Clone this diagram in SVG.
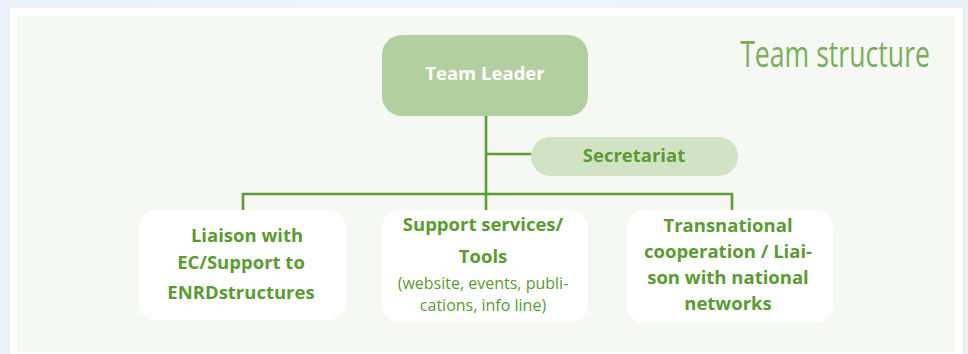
<svg xmlns="http://www.w3.org/2000/svg" width="968" height="354" viewBox="0 0 968 354">
<defs>
<linearGradient id="bg" x1="0" y1="0" x2="1" y2="0">
<stop offset="0" stop-color="#eaf1f8"/><stop offset="0.5" stop-color="#f1f6fb"/><stop offset="1" stop-color="#e8eff7"/>
</linearGradient>
</defs>
<style>
.lbl{font-family:"Open Sans","Noto Sans",sans-serif;font-weight:700;fill:#5b9b34;text-anchor:middle;font-size:18.5px}
.sm{font-family:"Open Sans","Noto Sans",sans-serif;font-weight:400;fill:#5b9b34;text-anchor:middle;font-size:16px}
.box{fill:#ffffff}
.con{stroke:#5e9c38;stroke-width:2.6;fill:none}
</style>
<rect x="0" y="0" width="968" height="354" fill="url(#bg)"/>
<rect x="10" y="8" width="953" height="346" fill="#ffffff"/>
<rect x="17" y="16" width="938" height="336" fill="#f6f8f3"/>
<text transform="translate(930 67) scale(0.74 1)" font-family="Open Sans, Noto Sans, sans-serif" font-weight="500" font-size="36" fill="#7aae5c" text-anchor="end">Team structure</text>
<g id="connectors">
<path class="con" d="M486 116V194"/>
<path class="con" d="M486 154H532"/>
<path class="con" d="M243 210V194H732V210"/>
<path class="con" d="M486 194V210"/>
</g>
<g id="team-leader">
<rect x="382" y="35" width="206" height="81" rx="20" fill="#b2cf9f"/>
<text class="lbl" x="485" y="80" style="fill:#ffffff">Team Leader</text>
</g>
<g id="secretariat">
<rect x="531" y="137" width="207" height="39" rx="19.5" fill="#d2e3c5"/>
<text class="lbl" x="634" y="162">Secretariat</text>
</g>
<g id="liaison-ec">
<rect class="box" x="139" y="210" width="207" height="110" rx="18"/>
<text class="lbl" x="247" y="242">Liaison with</text>
<text class="lbl" x="241" y="269">EC/Support to</text>
<text class="lbl" x="241" y="299">ENRDstructures</text>
</g>
<g id="support-services">
<rect class="box" x="382" y="210" width="206" height="112" rx="18"/>
<text class="lbl" x="483" y="231">Support services/</text>
<text class="lbl" x="483" y="263">Tools</text>
<text class="sm" x="483" y="289">(website, events, publi-</text>
<text class="sm" x="483" y="311">cations, info line)</text>
</g>
<g id="transnational">
<rect class="box" x="627" y="210" width="206" height="113" rx="18"/>
<text class="lbl" x="728" y="232">Transnational</text>
<text class="lbl" x="728" y="258">cooperation / Liai-</text>
<text class="lbl" x="728" y="284">son with national</text>
<text class="lbl" x="728" y="310">networks</text>
</g>
</svg>
